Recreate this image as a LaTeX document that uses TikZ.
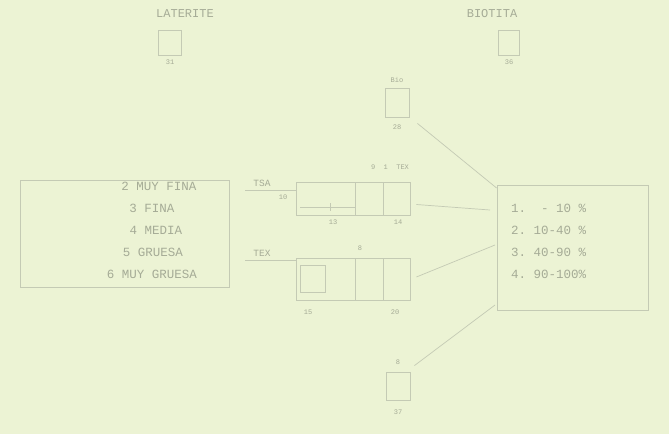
\documentclass[tikz,border=0pt]{standalone}
\usepackage{fontspec}
\setmonofont{Liberation Mono}
\begin{document}
\begin{tikzpicture}[x=1pt,y=-1pt,
  ln/.style={draw=lineC, line width=0.7pt},
  bx/.style={draw=lineC, line width=0.8pt, inner sep=0pt, fill=none},
  tx/.style={text=textC, font=\ttfamily\fontsize{12}{13}\selectfont, inner sep=1pt},
  mid/.style={text=textC, font=\ttfamily\fontsize{9.5}{10}\selectfont, inner sep=1pt},
  big/.style={text=textC, font=\ttfamily\fontsize{12.5}{13}\selectfont, inner sep=1pt},
  sm/.style={text=textC, font=\ttfamily\fontsize{7}{8}\selectfont, inner sep=1pt}]
\definecolor{bgC}{RGB}{236,243,212}
\definecolor{lineC}{RGB}{196,202,180}
\definecolor{textC}{RGB}{165,171,150}
\fill[bgC] (0,0) rectangle (669,434);
\useasboundingbox (0,0) rectangle (669,434);

% top labels and small boxes
\node[tx] (lat) at (185,14) {LATERITE};
\node[bx, minimum width=23pt, minimum height=25pt] (blat) at (169.5,42.5) {};
\node[sm] (nlat) at (170,62) {31};
\node[tx] (bio) at (492,14) {BIOTITA};
\node[bx, minimum width=21pt, minimum height=25pt] (bbio) at (508.5,42.5) {};
\node[sm] (nbio) at (509,62) {36};

% Bio box
\node[sm] (lb) at (397,80) {Bio};
\node[bx, minimum width=24pt, minimum height=29pt] (bb) at (397,102.5) {};
\node[sm] (nb) at (397,127) {28};

% left grain-size box
\node[bx, minimum width=209pt, minimum height=107pt] (gs) at (124.5,233.5) {};
\node[big] at (159,186) {2 MUY FINA};
\node[big] at (152,208) {3 FINA};
\node[big] at (156,230) {4 MEDIA};
\node[big] at (153,252) {5 GRUESA};
\node[big] at (152,274) {6 MUY GRUESA};

% upper middle box
\node[bx, minimum width=114pt, minimum height=33pt] (um) at (353,198.5) {};
\draw[ln] (355,182) -- (355,215);
\draw[ln] (383,182) -- (383,215);
\draw[ln] (300,207) -- (355,207);
\draw[ln] (330,203) -- (330,211);
\node[sm] at (390,167) {9\ \ 1\ \ TEX};
\node[sm] at (333,222) {13};
\node[sm] at (398,222) {14};
\node[mid] (tsa) at (262,183) {TSA};
\coordinate (ta) at (245,190);
\draw[ln] (ta) -- (um.west |- 0,190);
\node[sm] at (283,197) {10};

% lower middle box
\node[bx, minimum width=114pt, minimum height=42pt] (lm) at (353,279) {};
\draw[ln] (355,258) -- (355,300);
\draw[ln] (383,258) -- (383,300);
\draw[ln] (300,265) rectangle (325,292);
\node[sm] at (360,248) {8};
\node[sm] at (308,312) {15};
\node[sm] at (395,312) {20};
\node[mid] (tex) at (262,253) {TEX};
\coordinate (tb) at (245,260);
\draw[ln] (tb) -- (lm.west |- 0,260);

% right percent box
\node[bx, minimum width=151pt, minimum height=125pt] (pc) at (572.5,247.5) {};
\node[big, anchor=west] at (510,208) {1. \ - 10 \%};
\node[big, anchor=west] at (510,230) {2. 10-40 \%};
\node[big, anchor=west] at (510,252) {3. 40-90 \%};
\node[big, anchor=west] at (510,274) {4. 90-100\%};

% bottom box
\node[sm] (l8) at (398,362) {8};
\node[bx, minimum width=24pt, minimum height=28pt] (bt) at (398,386) {};
\node[sm] (n37) at (398,412) {37};

% connectors
\draw[ln] (bb.south east) ++(8,6) -- (pc.north west |- 0,188);
\draw[ln] (um.east) ++(6,6) -- (490,210);
\draw[ln] (lm.east) ++(6,-2) -- (495,245);
\draw[ln] (bt.north east) ++(4,-6) -- (495,305);
\end{tikzpicture}
\end{document}
